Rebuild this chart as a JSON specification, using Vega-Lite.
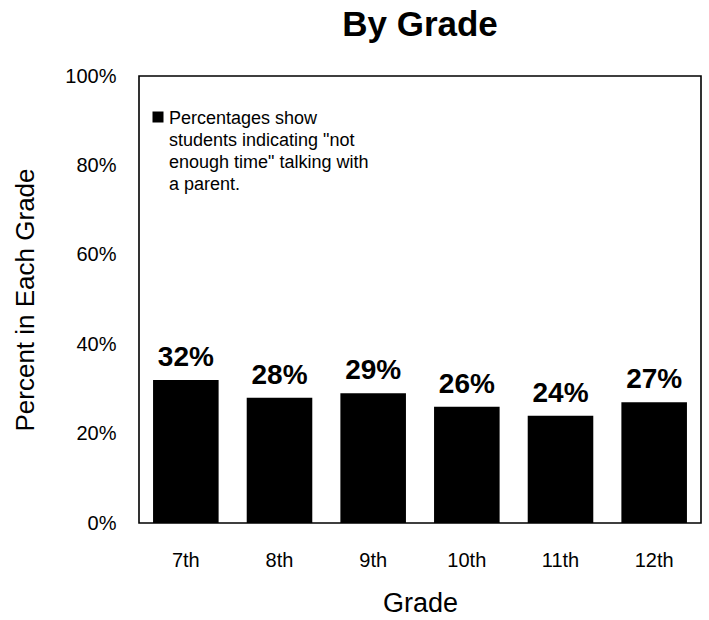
{
  "$schema": "https://vega.github.io/schema/vega-lite/v6.json",
  "width": 562,
  "height": 447,
  "autosize": {"type": "none"},
  "padding": {"left": 139, "top": 76, "right": 8, "bottom": 97},
  "background": "white",
  "config": {
    "font": "Liberation Sans",
    "view": {"stroke": "#000000", "strokeWidth": 1.6},
    "axis": {"grid": false, "ticks": false, "tickSize": 0, "domain": false, "labelColor": "#000", "titleColor": "#000", "titleFontWeight": "normal"}
  },
  "title": {
    "text": "By Grade",
    "fontSize": 35,
    "fontWeight": "bold",
    "color": "#000",
    "anchor": "middle",
    "frame": "group",
    "offset": 23
  },
  "data": {
    "values": [
      {"grade": "7th", "pct": 0.32, "note": "Percentages show|students indicating \"not|enough time\" talking with|a parent."},
      {"grade": "8th", "pct": 0.28, "note": "Percentages show|students indicating \"not|enough time\" talking with|a parent."},
      {"grade": "9th", "pct": 0.29, "note": "Percentages show|students indicating \"not|enough time\" talking with|a parent."},
      {"grade": "10th", "pct": 0.26, "note": "Percentages show|students indicating \"not|enough time\" talking with|a parent."},
      {"grade": "11th", "pct": 0.24, "note": "Percentages show|students indicating \"not|enough time\" talking with|a parent."},
      {"grade": "12th", "pct": 0.27, "note": "Percentages show|students indicating \"not|enough time\" talking with|a parent."}
    ]
  },
  "encoding": {
    "x": {
      "field": "grade",
      "type": "nominal",
      "sort": null,
      "scale": {"paddingInner": 0.3, "paddingOuter": 0.15},
      "axis": {"title": "Grade", "labelAngle": 0, "labelFontSize": 20, "labelPadding": 27, "titleFontSize": 27, "titlePadding": 20}
    },
    "y": {
      "field": "pct",
      "type": "quantitative",
      "scale": {"domain": [0, 1]},
      "axis": {"title": "Percent in Each Grade", "values": [0, 0.2, 0.4, 0.6, 0.8, 1], "format": ".0%", "labelFontSize": 20, "labelPadding": 23, "titleFontSize": 26, "titlePadding": 26}
    }
  },
  "layer": [
    {
      "mark": {"type": "bar"},
      "encoding": {
        "color": {
          "field": "note",
          "type": "nominal",
          "scale": {"range": ["#000000"]},
          "legend": {
            "title": null,
            "orient": "none",
            "legendX": 10,
            "legendY": 32,
            "symbolType": "square",
            "symbolSize": 121,
            "symbolStrokeWidth": 0,
            "labelFontSize": 18,
            "labelColor": "#000",
            "labelOffset": 2,
            "labelLimit": 0,
            "labelBaseline": "alphabetic",
            "labelExpr": "split(datum.label, '|')",
            "encode": {"labels": {"update": {"lineHeight": {"value": 22}, "dy": {"value": 6.5}}}}
          }
        }
      }
    },
    {
      "mark": {"type": "text", "fontSize": 28, "fontWeight": "bold", "color": "#000", "baseline": "alphabetic", "dy": -14},
      "encoding": {
        "text": {"field": "pct", "type": "quantitative", "format": ".0%"}
      }
    }
  ]
}
